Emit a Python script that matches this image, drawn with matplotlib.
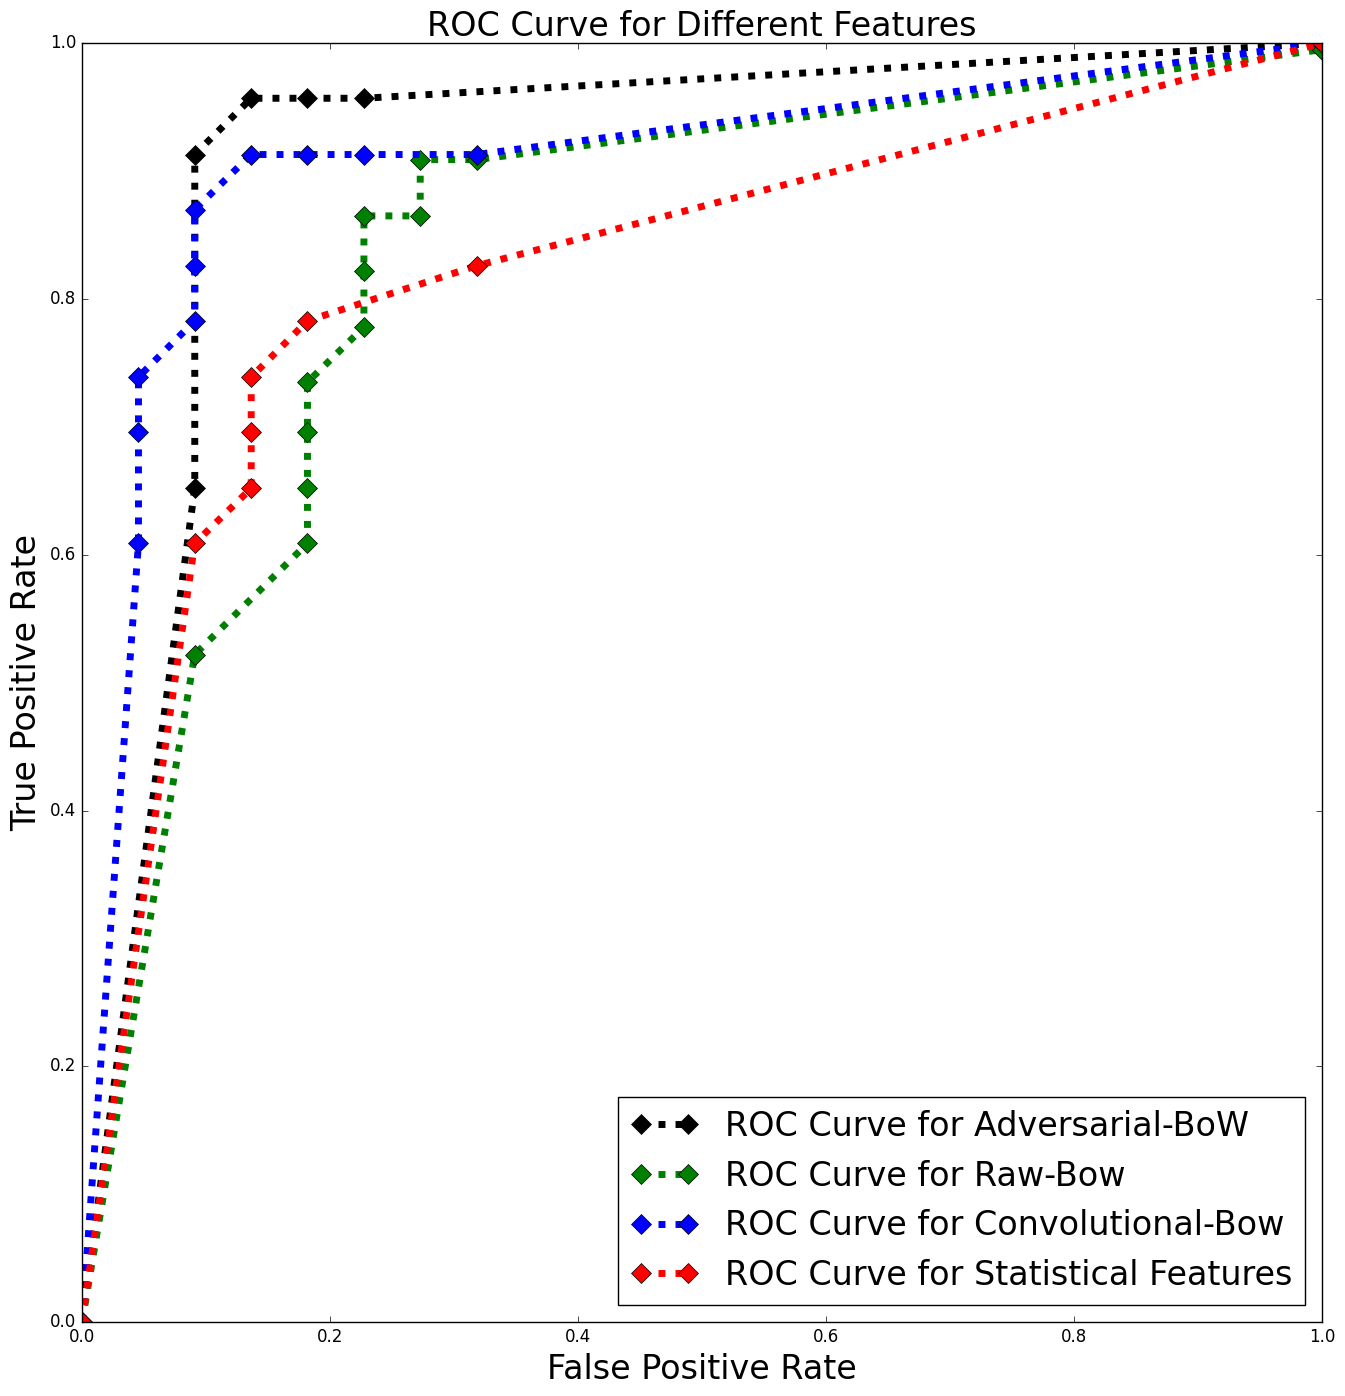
import matplotlib
matplotlib.use("Agg")
import matplotlib.pyplot as plt

plt.style.use('classic')
plt.rcParams['lines.scale_dashes'] = True

# Adversarial-BoW
fpr_adv = [0.0, 0.0909, 0.0909, 0.1364, 0.1818, 0.2273, 1.0]
tpr_adv = [0.0, 0.652, 0.913, 0.957, 0.957, 0.957, 1.0]

# Raw-Bow
fpr_raw = [0.0, 0.0909, 0.1818, 0.1818, 0.1818, 0.1818, 0.2273, 0.2273, 0.2273, 0.2727, 0.2727, 0.3182, 1.0]
tpr_raw = [0.0, 0.522, 0.609, 0.652, 0.696, 0.735, 0.778, 0.822, 0.865, 0.865, 0.909, 0.909, 0.995]

# Convolutional-Bow
fpr_conv = [0.0, 0.0455, 0.0455, 0.0455, 0.0909, 0.0909, 0.0909, 0.1364, 0.1818, 0.2273, 0.3182, 1.0]
tpr_conv = [0.0, 0.609, 0.696, 0.739, 0.783, 0.826, 0.870, 0.913, 0.913, 0.913, 0.913, 1.0]

# Statistical Features
fpr_stat = [0.0, 0.0909, 0.1364, 0.1364, 0.1364, 0.1818, 0.3182, 1.0]
tpr_stat = [0.0, 0.609, 0.652, 0.696, 0.739, 0.783, 0.826, 1.0]

labels = ['ROC Curve for Adversarial-BoW', 'ROC Curve for Raw-Bow',
          'ROC Curve for Convolutional-Bow', 'ROC Curve for Statistical Features']
colors = ['k', 'g', 'b', 'r']

fig = plt.figure(figsize=(13.45, 13.96), dpi=100)
ax = fig.add_axes([0.061, 0.053, 0.922, 0.916])

series = [(fpr_adv, tpr_adv), (fpr_raw, tpr_raw), (fpr_conv, tpr_conv), (fpr_stat, tpr_stat)]
for (x, y), lab, c in zip(series, labels, colors):
    ax.plot(x, y, linestyle=(0, (1, 1.45)), marker='D', color=c, linewidth=5,
            markersize=10, label=lab)

ax.set_xlim(0, 1)
ax.set_ylim(0, 1)
ax.set_title('ROC Curve for Different Features', fontsize=24)
ax.set_xlabel('False Positive Rate', fontsize=24)
ax.set_ylabel('True Positive Rate', fontsize=24)
ax.legend(loc='lower right', fontsize=24, numpoints=2)

fig.savefig('out.png', dpi=100)
